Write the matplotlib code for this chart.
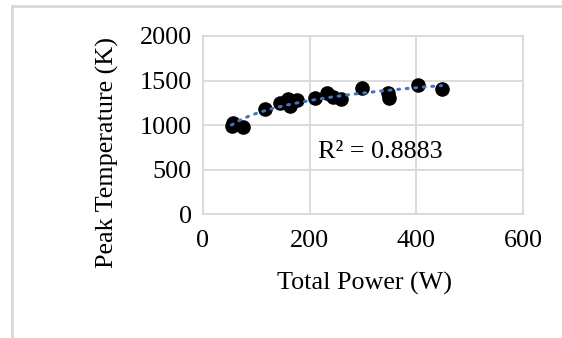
import matplotlib.pyplot as plt
import matplotlib.patches as mpatches
import numpy as np

# data
power = [54, 57, 75, 116, 144, 160, 163, 176, 210, 232, 244, 258, 299, 346, 348, 403, 447]
temp = [990, 1027, 982, 1177, 1244, 1289, 1214, 1281, 1300, 1356, 1311, 1293, 1420, 1364, 1308, 1450, 1405]
xticks = [0, 200, 400, 600]
yticks = [0, 500, 1000, 1500, 2000]
r2_label = "R² = 0.8883"

plt.rcParams['font.family'] = ['Liberation Serif', 'DejaVu Serif']
fs = 18.8

fig = plt.figure(figsize=(5.62, 3.38), dpi=100)
ax = fig.add_axes([202.7 / 562, 1 - 214.3 / 338, (523.3 - 202.7) / 562, (214.3 - 36) / 338])

# outer chart border (light gray, clipped at right/bottom)
fig.patches.append(mpatches.Rectangle((12 / 562, -0.1), 1.2, 1 - 6 / 338 + 0.1,
                                      transform=fig.transFigure, fill=False,
                                      edgecolor='#d9d9d9', linewidth=2))

ax.scatter(power, temp, s=90, color='black', zorder=3)

# logarithmic trendline
px = np.array(power, dtype=float)
b, a = np.polyfit(np.log(px), np.array(temp, dtype=float), 1)
xs = np.linspace(px.min(), px.max(), 200)
ax.plot(xs, a + b * np.log(xs), color='#4472c4', linewidth=2.2,
        linestyle=(0, (0.6, 2.2)), dash_capstyle='round', zorder=4)

ax.text(215, 698, r2_label, fontsize=fs, va='center', ha='left')

ax.set_xlim(0, 600)
ax.set_ylim(0, 2000)
ax.set_xticks(xticks)
ax.set_yticks(yticks)
ax.tick_params(length=0, labelsize=fs, pad=11)
ax.tick_params(axis='y', pad=8)
ax.grid(True, color='#d9d9d9', linewidth=1.3)
ax.set_axisbelow(True)
for s in ax.spines.values():
    s.set_color('#d9d9d9')
    s.set_linewidth(1.3)

fig.text(364.5 / 562, 1 - 283 / 338, "Total Power (W)", fontsize=fs, ha='center', va='center')
fig.text(107 / 562, 1 - 152 / 338, "Peak Temperature (K)", fontsize=fs, ha='center',
         va='center', rotation=90)

plt.savefig('out.png', dpi=100)
